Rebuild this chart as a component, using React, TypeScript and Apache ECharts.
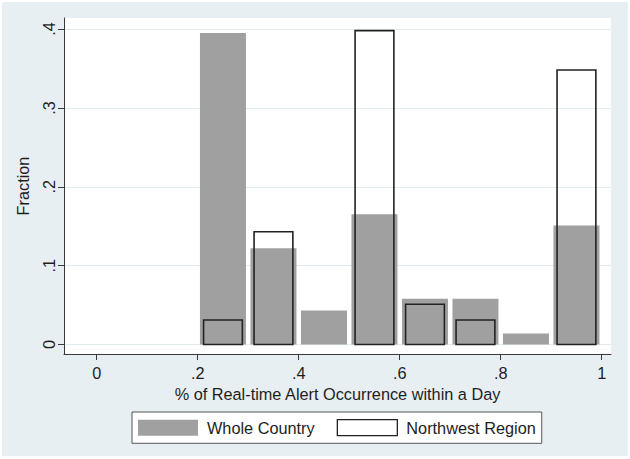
import React, { useEffect, useRef } from "react";
import * as echarts from "echarts";

const binStarts = [0.2, 0.3, 0.4, 0.5, 0.6, 0.7, 0.8, 0.9];
const binWidth = 0.1;
const wholeCountry = [0.395, 0.122, 0.043, 0.165, 0.058, 0.058, 0.014, 0.151];
const northwest = [0.031, 0.143, 0, 0.398, 0.051, 0.031, 0, 0.348];
const xTicks = [0, 0.2, 0.4, 0.6, 0.8, 1];
const yTicks = [0, 0.1, 0.2, 0.3, 0.4];
const xTitle = "% of Real-time Alert Occurrence within a Day";
const yTitle = "Fraction";
const seriesNames = ["Whole Country", "Northwest Region"];

const FONT = "'Liberation Sans', Arial, Helvetica, sans-serif";
const FS = 16.3;
const TEXT = "#1e1e1e";
const AXIS = "#3a3a3a";
const GRAY = "#a0a0a0";
const GRID = "#e1eaee";

const fmt = (v: number) => {
  if (v === 0) return "0";
  if (v === 1) return "1";
  return String(Math.round(v * 10) / 10).replace(/^0\./, ".");
};

function makeRender(inset: number, style: any) {
  return (params: any, api: any) => {
    const s = api.value(0);
    const e = api.value(1);
    const v = api.value(2);
    const a = api.coord([s, 0]);
    const b = api.coord([e, v]);
    return {
      type: "rect",
      shape: {
        x: a[0] + inset,
        y: b[1],
        width: b[0] - a[0] - 2 * inset,
        height: a[1] - b[1],
      },
      style,
    };
  };
}

export default function App() {
  const ref = useRef<HTMLDivElement>(null);
  useEffect(() => {
    if (!ref.current) return;
    const chart = echarts.init(ref.current, null, { renderer: "svg" });
    const wcData = binStarts.map((s, i) => [s, s + binWidth, wholeCountry[i]]);
    const nwData = binStarts
      .map((s, i) => [s, s + binWidth, northwest[i]])
      .filter((d) => d[2] > 0);
    chart.setOption({
      animation: false,
      backgroundColor: "#e8eff2",
      textStyle: { fontFamily: FONT, color: TEXT },
      grid: {
        left: 62,
        top: 16,
        width: 547,
        height: 336,
        show: true,
        backgroundColor: "#ffffff",
        borderWidth: 0,
      },
      xAxis: {
        type: "value",
        min: -0.0648,
        max: 1.0184,
        name: xTitle,
        nameLocation: "middle",
        nameGap: 30,
        nameTextStyle: { fontSize: FS, color: TEXT, fontFamily: FONT },
        axisLine: { show: true, onZero: false, lineStyle: { color: AXIS, width: 1 } },
        axisTick: { show: true, length: 6, customValues: xTicks, lineStyle: { color: AXIS } },
        axisLabel: {
          customValues: xTicks,
          formatter: fmt,
          fontSize: FS,
          color: TEXT,
          fontFamily: FONT,
          margin: 11,
        },
        splitLine: { show: false },
      },
      yAxis: {
        type: "value",
        min: -0.01204,
        max: 0.41395,
        name: yTitle,
        nameLocation: "middle",
        nameGap: 33,
        nameTextStyle: { fontSize: FS, color: TEXT, fontFamily: FONT },
        axisLine: { show: true, onZero: false, lineStyle: { color: AXIS, width: 1 } },
        axisTick: { show: true, length: 6, customValues: yTicks, lineStyle: { color: AXIS } },
        axisLabel: {
          customValues: yTicks,
          formatter: fmt,
          rotate: 90,
          fontSize: FS,
          color: TEXT,
          fontFamily: FONT,
          margin: 7,
        },
        splitLine: { show: true, customValues: yTicks, lineStyle: { color: GRID, width: 1 } },
      },
      legend: {
        left: 130,
        top: 410,
        orient: "horizontal",
        icon: "rect",
        itemWidth: 60,
        itemHeight: 16,
        itemGap: 22,
        padding: [7, 6, 7, 6],
        backgroundColor: "#ffffff",
        borderColor: "#555555",
        borderWidth: 1,
        borderRadius: 0,
        textStyle: { fontSize: FS, color: TEXT, fontFamily: FONT, padding: [0, 0, 0, 4] },
        data: [
          { name: seriesNames[0], itemStyle: { color: GRAY, borderWidth: 0 } },
          {
            name: seriesNames[1],
            itemStyle: { color: "#ffffff", borderColor: "#222222", borderWidth: 1.3 },
          },
        ],
      },
      series: [
        {
          name: seriesNames[0],
          type: "custom",
          encode: { x: [0, 1], y: 2 },
          itemStyle: { color: GRAY },
          renderItem: makeRender(2.25, { fill: GRAY, stroke: "none" }),
          data: wcData,
          z: 2,
        },
        {
          name: seriesNames[1],
          type: "custom",
          encode: { x: [0, 1], y: 2 },
          itemStyle: { color: "#ffffff", borderColor: "#222222" },
          renderItem: makeRender(5.85, { fill: "none", stroke: "#222222", lineWidth: 1.6 }),
          data: nwData,
          z: 3,
        },
      ],
    });
    return () => chart.dispose();
  }, []);
  return (
    <div
      style={{
        position: "absolute",
        left: 0,
        top: 0,
        width: 630,
        height: 459,
        background: "#ffffff",
      }}
    >
      <div
        ref={ref}
        style={{ position: "absolute", left: 2, top: 2, width: 626, height: 454 }}
      />
    </div>
  );
}
